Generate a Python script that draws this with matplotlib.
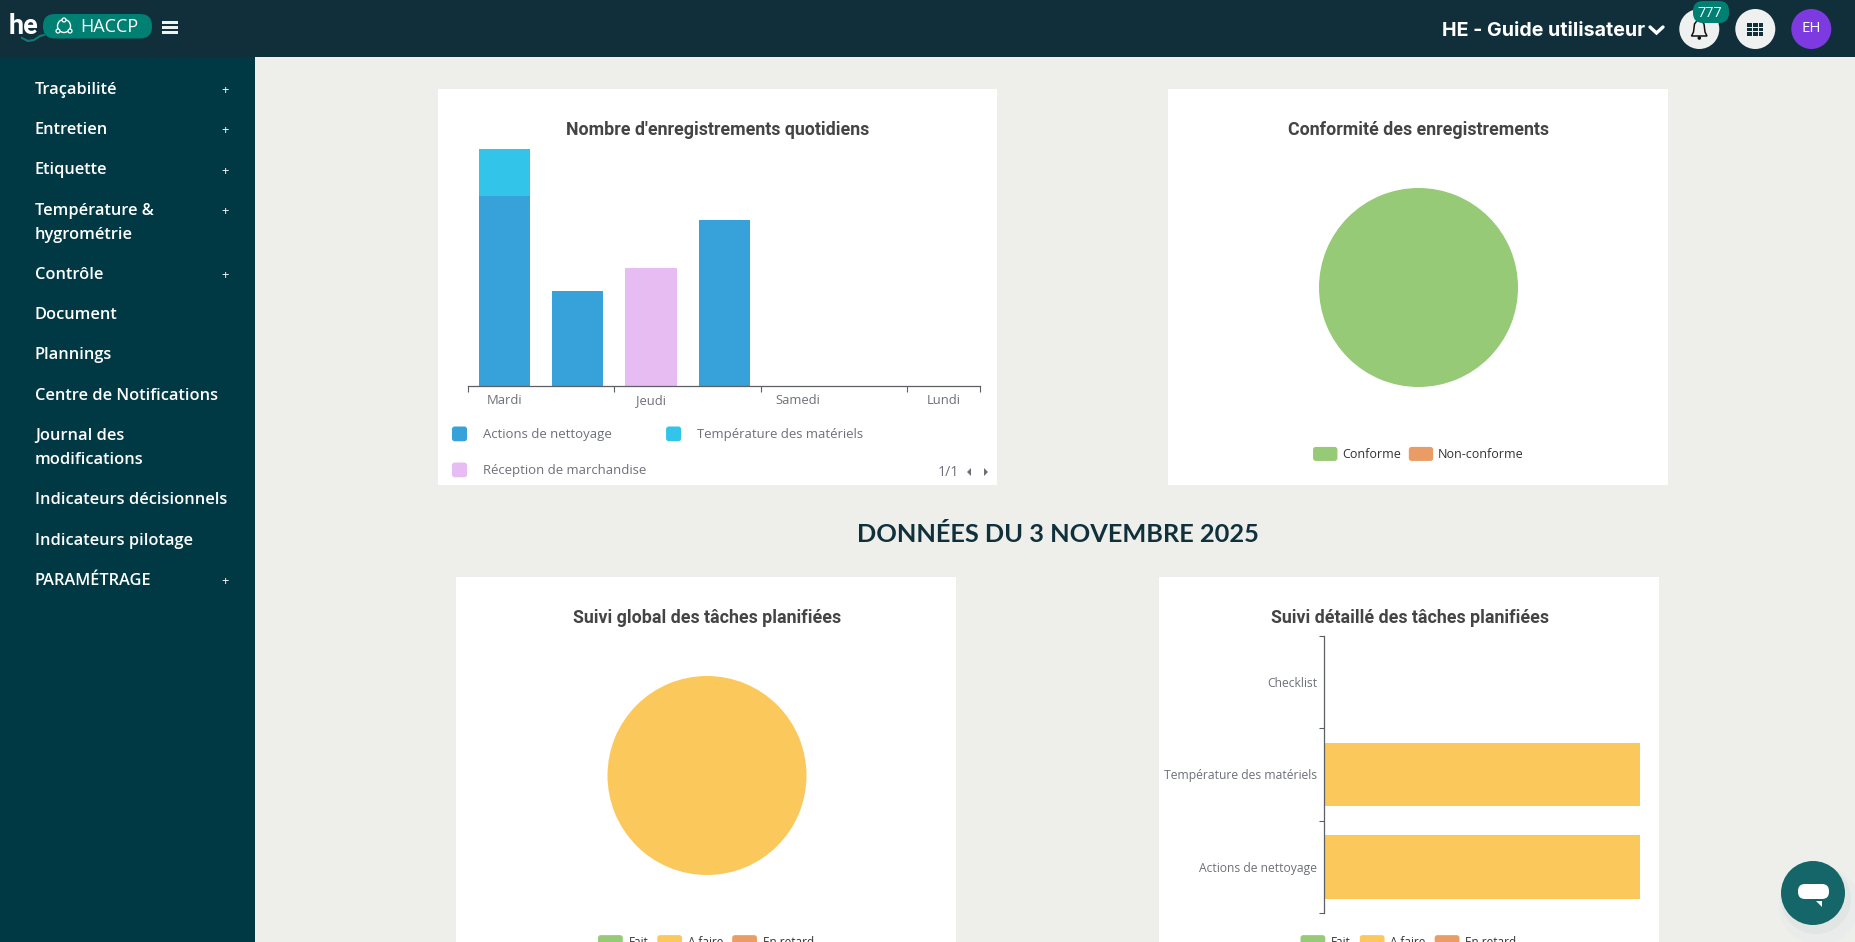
import matplotlib
matplotlib.use("Agg")
import matplotlib.pyplot as plt
from matplotlib.patches import FancyBboxPatch, Rectangle, Circle, Patch, Polygon
from matplotlib.legend_handler import HandlerPatch

# ---- data ----
days = ["Mardi", "Mercredi", "Jeudi", "Vendredi", "Samedi", "Dimanche", "Lundi"]
day_labels_shown = ["Mardi", "Jeudi", "Samedi", "Lundi"]
actions = [8, 4, 0, 7, 0, 0, 0]
temperature = [2, 0, 0, 0, 0, 0, 0]
reception = [0, 0, 5, 0, 0, 0, 0]
series_names = ["Actions de nettoyage", "Température des matériels", "Réception de marchandise"]

conformity_labels = ["Conforme", "Non-conforme"]
conformity_values = [100, 0]

task_labels = ["Fait", "A faire", "En retard"]
task_global = [0, 100, 0]

detail_categories = ["Actions de nettoyage", "Température des matériels", "Checklist"]
detail_done = [0, 0, 0]
detail_todo = [1, 1, 0]
detail_late = [0, 0, 0]

menu_items = [
    ("Traçabilité", 90, True), ("Entretien", 130, True), ("Etiquette", 170.5, True),
    ("Température &", 211, True), ("hygrométrie", 235, False), ("Contrôle", 275, True),
    ("Document", 315, False), ("Plannings", 355, False), ("Centre de Notifications", 395.5, False),
    ("Journal des", 436, False), ("modifications", 460, False),
    ("Indicateurs décisionnels", 500, False), ("Indicateurs pilotage", 541, False),
    ("PARAMÉTRAGE", 581, True),
]

# ---- colours ----
BLUE, CYAN, PINK = "#37a2da", "#32c5e9", "#e7bcf3"
GREEN, ORANGE, YELLOW = "#96ca77", "#ea9c65", "#fbc85c"
BG, SIDE, HEAD, TEAL = "#eeefeb", "#003844", "#112f3a", "#007f73"
AXC, TITLEC = "#6e7079", "#444444"
SPINE = "#5c5f66"

W, H = 1856, 942
fig = plt.figure(figsize=(W / 100, H / 100), dpi=100, facecolor=BG)
pt = lambda px: px * 0.72


def axes_px(x0, y0, x1, y1, **kw):
    return fig.add_axes([x0 / W, 1 - y1 / H, (x1 - x0) / W, (y1 - y0) / H], **kw)


ui = axes_px(0, 0, W, H, zorder=0)
ui.set_xlim(0, W)
ui.set_ylim(H, 0)
ui.axis("off")


def rect(x0, y0, x1, y1, c, **kw):
    ui.add_patch(Rectangle((x0, y0), x1 - x0, y1 - y0, fc=c, ec="none", **kw))


def rrect(x0, y0, x1, y1, c, r=3):
    ui.add_patch(FancyBboxPatch((x0 + r, y0 + r), x1 - x0 - 2 * r, y1 - y0 - 2 * r,
                                boxstyle=f"round,pad={r},rounding_size={r}", fc=c, ec="none"))


def txt(x, y, s, px, c="white", fam="Open Sans", w="normal", ha="left", va="center", **kw):
    ui.text(x, y, s, fontsize=pt(px), color=c, family=fam, weight=w, ha=ha, va=va, **kw)


# frame
rect(0, 0, W, 57, HEAD)
rect(0, 57, 255, H, SIDE)

# header left
txt(9, 27, "he", 27, fam="Roboto", w="bold")
ui.plot([22, 28, 34, 40, 44], [38, 41, 40, 36, 35], color="#127a70", lw=1.5)
rrect(43, 14, 152, 38.5, TEAL, r=12)
ui.add_patch(Circle((64, 26), 6.5, fc="none", ec="white", lw=1))
for nx, ny in ((64, 20), (58, 31), (70, 31)):
    ui.add_patch(Circle((nx, ny), 2, fc=TEAL, ec="white", lw=0.9))
txt(80, 27.5, "HACCP", 18, fam="Open Sans")
for y in (22, 27, 32):
    rect(162, y - 1.5, 178, y + 1.5, "#f0f2f2")

# header right
txt(1442, 31, "HE - Guide utilisateur", 19.6, fam="Inter", w="bold")
ui.plot([1650, 1656.5, 1663], [27, 33, 27], color="white", lw=2.4, solid_capstyle="round", solid_joinstyle="miter")
for cx, c in ((1699.3, "#eff1f1"), (1755.3, "#eff1f1"), (1811.3, "#7c3ae0")):
    ui.add_patch(Circle((cx, 29), 20, fc=c, ec="none"))
ui.add_patch(Polygon([[1691.5, 36], [1693.5, 32], [1694.5, 24], [1697.5, 20], [1701, 20], [1704, 24],
                      [1705, 32], [1707, 36]], closed=True, fc="none", ec="#111", lw=1.1))
ui.add_patch(Circle((1699.3, 38), 1.8, fc="#111", ec="none"))
rrect(1693, 1, 1729, 23, TEAL, r=10)
txt(1710, 13.5, "777", 14.5, ha="center")
for i in range(3):
    for j in range(3):
        rect(1747.3 + i * 5.8, 23 + j * 4.6, 1751.9 + i * 5.8, 26.6 + j * 4.6, "#112f3a")
txt(1811.3, 29, "EH", 15, ha="center")

# sidebar
for label, y, plus in menu_items:
    txt(35, y, label, 16.4, w="semibold")
    if plus:
        txt(225, y + 0.5, "+", 13, ha="center")

# cards
for x0, y0, x1, y1 in ((438, 89, 997.5, 485), (1168, 89, 1668, 485), (456.5, 577, 956, H), (1159, 577, 1659, H)):
    rect(x0, y0, x1, y1, "white")

# titles
for x, y, s in ((718, 130, "Nombre d'enregistrements quotidiens"),
                (1418.5, 130, "Conformité des enregistrements"),
                (707, 618, "Suivi global des tâches planifiées"),
                (1410, 618, "Suivi détaillé des tâches planifiées")):
    txt(x, y, s, 17.8, c=TITLEC, fam="Roboto", w="bold", ha="center")
txt(1058, 535, "DONNÉES DU 3 NOVEMBRE 2025", 25.4, c="#10303c", fam="Lato", w="bold", ha="center")


# rounded legend swatches
def swatch(legend, orig_handle, xdescent, ydescent, width, height, fontsize):
    return FancyBboxPatch((2 - xdescent, 2 - ydescent), width - 4, height - 4,
                          boxstyle="round,pad=2,rounding_size=2", mutation_aspect=1)


hmap = {Patch: HandlerPatch(patch_func=swatch)}


def legend_at(x, y, labels, colors, ncol, px, tc, hl, hh, tp, cs, ls=0.5, loc="center"):
    hs = [Patch(fc=c, ec="none") for c in colors]
    leg = fig.legend(hs, labels, loc=loc, bbox_to_anchor=(x, y), bbox_transform=ui.transData,
                     ncol=ncol, frameon=False, borderpad=0, borderaxespad=0,
                     handlelength=hl, handleheight=hh, handletextpad=tp, columnspacing=cs,
                     labelspacing=ls, handler_map=hmap,
                     prop={"family": "Open Sans", "size": pt(px)})
    for t in leg.get_texts():
        t.set_color(tc)
    return leg


# chart 1: stacked daily bars
ax = axes_px(468, 149, 980.5, 386, zorder=2, facecolor="none")
xs = range(len(days))
ax.bar(xs, actions, width=0.70, color=BLUE, label=series_names[0])
ax.bar(xs, temperature, width=0.70, bottom=actions, color=CYAN, label=series_names[1])
ax.bar(xs, reception, width=0.70, color=PINK, label=series_names[2])
ax.set_xlim(-0.5, 6.5)
ax.set_ylim(0, 10)
ax.set_yticks([])
for s in ("top", "left", "right"):
    ax.spines[s].set_visible(False)
ax.spines["bottom"].set_color(SPINE)
ax.spines["bottom"].set_linewidth(0.9)
ax.set_xticks([-0.5, 1.5, 3.5, 5.5, 6.5])
ax.set_xticklabels([])
ax.tick_params(axis="x", which="major", length=pt(6), width=0.8, color=SPINE)
ax.set_xticks([days.index(d) for d in day_labels_shown], minor=True)
ax.set_xticklabels(day_labels_shown, minor=True, family="Open Sans", fontsize=pt(13), color=AXC)
ax.tick_params(axis="x", which="minor", length=0, pad=pt(18.5))
for tick_label in ax.get_xticklabels(minor=True):
    tick_label.set_verticalalignment("baseline")

legend_at(452, 426.5, [series_names[0], series_names[2], series_names[1]], [BLUE, PINK, CYAN],
          2, 13.1, AXC, 1.15, 1.36, 1.22, 1.51, ls=1.62, loc="upper left")
txt(948, 472, "1/1", 14, c=AXC, ha="center")
ui.add_patch(Polygon([[967, 472], [971, 468], [971, 476]], closed=True, fc=AXC, ec="none"))
ui.add_patch(Polygon([[988, 472], [984, 468], [984, 476]], closed=True, fc=AXC, ec="none"))

# chart 2 pie
ax = axes_px(1319, 188, 1518, 387, zorder=2, facecolor="none")
ax.pie(conformity_values, colors=[GREEN, ORANGE], radius=1, startangle=90)
ax.set_xlim(-1, 1)
ax.set_ylim(-1, 1)
legend_at(1418.5, 454, conformity_labels, [GREEN, ORANGE], 2, 12.5, "#333333", 1.95, 1.35, 0.4, 0.6)

# chart 3 pie
ax = axes_px(607.5, 676, 806.5, 875, zorder=2, facecolor="none")
ax.pie(task_global, colors=[GREEN, YELLOW, ORANGE], radius=1, startangle=90)
ax.set_xlim(-1, 1)
ax.set_ylim(-1, 1)
legend_at(706, 942, task_labels, [GREEN, YELLOW, ORANGE], 3, 11.8, "#333333", 2.1, 1.4, 0.5, 0.75)

# chart 4 horizontal bars
ax = axes_px(1324.5, 636, 1640, 913, zorder=2, facecolor="none")
ys = range(len(detail_categories))
ax.barh(ys, detail_done, height=0.69, color=GREEN)
ax.barh(ys, detail_todo, height=0.69, left=detail_done, color=YELLOW)
ax.barh(ys, detail_late, height=0.69, color=ORANGE)
ax.set_xlim(0, 1)
ax.set_ylim(-0.5, 2.5)
ax.set_xticks([])
for s in ("top", "bottom", "right"):
    ax.spines[s].set_visible(False)
ax.spines["left"].set_color(SPINE)
ax.spines["left"].set_linewidth(0.9)
ax.set_yticks([-0.5, 0.5, 1.5, 2.5])
ax.set_yticklabels([])
ax.tick_params(axis="y", which="major", length=pt(5), width=0.8, color=SPINE)
ax.set_yticks(list(ys), minor=True)
ax.set_yticklabels(detail_categories, minor=True, family="Open Sans", fontsize=pt(12.1), color=AXC)
ax.tick_params(axis="y", which="minor", length=0, pad=pt(7))
legend_at(1408.5, 942, task_labels, [GREEN, YELLOW, ORANGE], 3, 11.8, "#333333", 2.1, 1.4, 0.5, 0.75)

# chat bubble
ui.add_patch(Circle((1819, 905), 40, fc="#e9ecea", ec="none"))
ui.add_patch(Circle((1816, 899), 35, fc="#e1e5e3", ec="none"))
ui.add_patch(Circle((1813, 893), 32, fc="#146668", ec="none"))
rrect(1798, 884, 1829, 899, "white", r=7)
ui.add_patch(Polygon([[1816, 901], [1822, 901], [1822, 907]], closed=True, fc="white", ec="none"))

fig.savefig("out.png", dpi=100, facecolor=BG)
